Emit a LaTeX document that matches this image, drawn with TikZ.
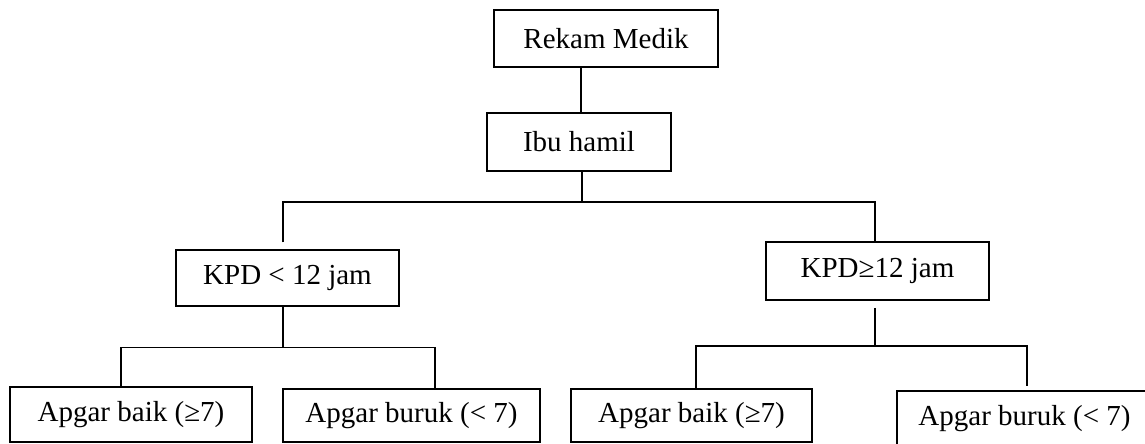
\documentclass[tikz,border=0pt]{standalone}
\usepackage{fontspec}
\setmainfont{Liberation Serif}
\begin{document}
\begin{tikzpicture}[x=1pt,y=-1pt,
  box/.style={draw,line width=1.5pt,inner sep=0pt,font=\fontsize{29}{34}\selectfont},
  conn/.style={line width=1.5pt}]
\useasboundingbox (0,0) rectangle (1145,444);
\clip (0,0) rectangle (1145,444);
\node[box,minimum width=224pt,minimum height=57pt] (rekam) at (606,38.5) {Rekam Medik};
\node[box,minimum width=184pt,minimum height=58pt] (ibu) at (579,142) {Ibu hamil};
\node[box,minimum width=223pt,minimum height=56pt] (kpdA) at (287.5,278) {KPD < 12 jam};
\node[box,minimum width=223pt,minimum height=58pt] (kpdB) at (877.5,271) {KPD≥12 jam};
\node[box,minimum width=242pt,minimum height=55pt] (apA1) at (131,414.5) {Apgar baik (≥7)};
\node[box,minimum width=257pt,minimum height=53pt] (apA2) at (411.5,415.5) {Apgar buruk (< 7)};
\node[box,minimum width=241pt,minimum height=53pt] (apB1) at (691.5,415.5) {Apgar baik (≥7)};
\node[box,minimum width=255pt,minimum height=55pt] (apB2) at (1024.5,418.5) {Apgar buruk (< 7)};
\coordinate (j1) at (582,202);
\coordinate (jA) at (283,347.5);
\coordinate (jB) at (875,346);
\draw[conn] ([xshift=2pt]ibu.north) -- ([xshift=2pt]ibu.north |- rekam.south);
\draw[conn] ([xshift=3pt]ibu.south) -- (j1);
\draw[conn] ([xshift=-4.5pt,yshift=7pt]kpdA.north) |- (j1) -| ([xshift=-2.5pt]kpdB.north);
\draw[conn] ([xshift=-4.5pt]kpdA.south) -- (jA);
\draw[conn] ([xshift=-10pt]apA1.north) |- (jA) -| ([xshift=23.5pt]apA2.north);
\draw[conn] ([xshift=-2.5pt,yshift=-7pt]kpdB.south) -- (jB);
\draw[conn] ([xshift=4.5pt]apB1.north) |- (jB) -| ([xshift=2.5pt,yshift=4pt]apB2.north);
\end{tikzpicture}
\end{document}
